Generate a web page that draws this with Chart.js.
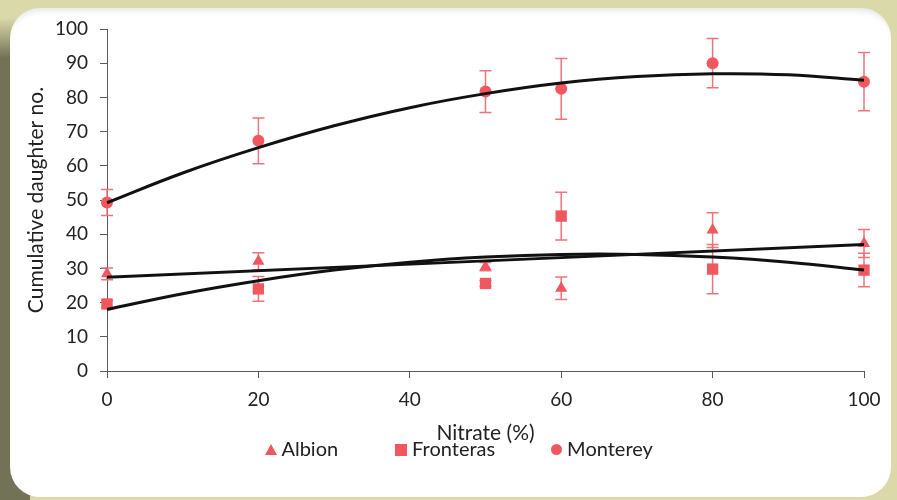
<!DOCTYPE html>
<html>
<head>
<meta charset="utf-8">
<script src="https://cdn.jsdelivr.net/npm/chart.js@4.4.1/dist/chart.umd.min.js"></script>
<style>
  html, body { margin: 0; padding: 0; }
  body {
    width: 897px; height: 500px; position: relative; overflow: hidden;
    background: #dad9aa; font-family: Lato, sans-serif;
  }
  .shade {
    position: absolute; left: 0; top: 18px; width: 30px; height: 482px;
    background: linear-gradient(to bottom, rgba(112,112,84,0) 0, #727256 40px, #727256 100%);
  }
  .panel {
    position: absolute; left: 10px; top: 8px; width: 881px; height: 489px;
    background: #fff; border-radius: 30px;
    box-shadow: inset 0 7px 6px -4px rgba(0,0,0,0.10);
  }
  canvas { position: absolute; left: 0; top: 0; }
  .legend { position: absolute; top: 435px; height: 26px; font-size: 20px; color: #222; }
  .legend span.mk { display: inline-block; vertical-align: middle; background: #f0575e; }
  .item { position: absolute; top: 0; white-space: nowrap; line-height: 26px; }
  .tri { width: 0 !important; height: 0 !important; background: none !important;
         border-left: 6px solid transparent; border-right: 6px solid transparent;
         border-bottom: 11px solid #f0575e; margin-top: -3px; }
  .sq { width: 12px; height: 12px; margin-top: -2px; }
  .ci { width: 11px; height: 11px; border-radius: 50%; margin-top: -2px; }
</style>
</head>
<body>
<div class="shade"></div>
<div class="panel"></div>
<canvas id="chart" width="897" height="500"></canvas>
<div class="legend" id="legend"></div>
<script>
// nitrate levels (%)
const nitrate = [0, 20, 50, 60, 80, 100];

const seriesNames = ["Albion", "Fronteras", "Monterey"];

// mean cumulative daughters and error (+/-)
const albion = [28.4, 32.1, 30.5, 24.2, 41.2, 37.3];
const albionErr = [1.7, 2.5, 1.2, 3.3, 5.1, 4.1];
const fronteras = [19.6, 24.0, 25.6, 45.3, 29.8, 29.5];
const fronterasErr = [1.0, 3.6, 0.8, 7.0, 7.2, 4.9];
const monterey = [49.3, 67.3, 81.7, 82.5, 90.0, 84.6];
const montereyErr = [3.8, 6.7, 6.1, 8.9, 7.2, 8.5];

// trend lines
const trendX = [0, 10, 20, 30, 40, 50, 60, 70, 80, 90, 100];
const montereyTrend = [49.2, 57.9, 65.3, 71.7, 77.0, 81.1, 84.2, 86.1, 86.9, 86.6, 85.0];
const fronterasTrend = [18.0, 22.6, 26.4, 29.5, 31.8, 33.3, 34.1, 34.1, 33.3, 31.8, 29.5];
const albionTrendX = [0, 100];
const albionTrend = [27.4, 37.0];

const xTicks = [0, 20, 40, 60, 80, 100];
const yTicks = [0, 10, 20, 30, 40, 50, 60, 70, 80, 90, 100];

const red = "#f0575e";
const errRed = "#ee7479";
const axisGrey = "#595959";
const textCol = "#222222";

const pts = (xs, ys) => xs.map((x, i) => ({ x: x, y: ys[i] }));

// error bars drawn through the chart scales
const errorBars = {
    id: "errorBars",
    beforeDatasetsDraw(chart) {
        const ctx = chart.ctx;
        const xs = chart.scales.x;
        const ys = chart.scales.y;
        ctx.save();
        ctx.strokeStyle = errRed;
        ctx.lineWidth = 1.5;
        chart.data.datasets.forEach((ds) => {
            if (!ds.errors) return;
            ds.data.forEach((p, i) => {
                const e = ds.errors[i];
                const px = xs.getPixelForValue(p.x);
                const top = ys.getPixelForValue(p.y + e);
                const bot = ys.getPixelForValue(p.y - e);
                ctx.beginPath();
                ctx.moveTo(px, top);
                ctx.lineTo(px, bot);
                ctx.moveTo(px - 6, top);
                ctx.lineTo(px + 6, top);
                ctx.moveTo(px - 6, bot);
                ctx.lineTo(px + 6, bot);
                ctx.stroke();
            });
        });
        ctx.restore();
    }
};

const markerSet = (label, ys, errs, style, r) => ({
    label: label,
    data: pts(nitrate, ys),
    errors: errs,
    pointStyle: style,
    pointRadius: r,
    backgroundColor: red,
    borderColor: red,
    borderWidth: 0,
    showLine: false,
    clip: false,
    order: 1,
});

const trendSet = (xs, ys) => ({
    label: "",
    data: pts(xs, ys),
    showLine: true,
    borderColor: "#111111",
    borderWidth: 3,
    pointRadius: 0,
    tension: 0.4,
    clip: false,
    order: 0,
});

new Chart(document.getElementById("chart"), {
    type: "scatter",
    data: {
        datasets: [
            markerSet(seriesNames[0], albion, albionErr, "triangle", 7),
            markerSet(seriesNames[1], fronteras, fronterasErr, "rect", 8),
            markerSet(seriesNames[2], monterey, montereyErr, "circle", 6),
            trendSet(albionTrendX, albionTrend),
            trendSet(trendX, fronterasTrend),
            trendSet(trendX, montereyTrend),
        ],
    },
    options: {
        responsive: false,
        devicePixelRatio: 1,
        animation: false,
        layout: { padding: { left: 20, top: 29, right: 33, bottom: 50 } },
        plugins: {
            legend: { display: false },
            tooltip: { enabled: false },
        },
        scales: {
            x: {
                type: "linear",
                min: 0,
                max: 100,
                afterBuildTicks: (s) => { s.ticks = xTicks.map((v) => ({ value: v })); },
                afterFit: (s) => { s.height = 79; },
                ticks: { color: textCol, font: { family: "Lato", size: 19 }, padding: 10 },
                grid: { drawOnChartArea: false, drawTicks: true, tickLength: 7, color: axisGrey },
                border: { color: axisGrey, width: 1 },
                title: { display: true, text: "Nitrate (%)", color: textCol, font: { family: "Lato", size: 21 } },
            },
            y: {
                min: 0,
                max: 100,
                afterBuildTicks: (s) => { s.ticks = yTicks.map((v) => ({ value: v })); },
                afterFit: (s) => { s.width = 87; },
                ticks: { color: textCol, font: { family: "Lato", size: 19 }, padding: 12 },
                grid: { drawOnChartArea: false, drawTicks: true, tickLength: 7, color: axisGrey },
                border: { color: axisGrey, width: 1 },
                title: { display: true, text: "Cumulative daughter no.", color: textCol, font: { family: "Lato", size: 21 } },
            },
        },
    },
    plugins: [errorBars],
});

// legend
const legendEl = document.getElementById("legend");
const markers = ["tri", "sq", "ci"];
const lefts = [265, 395, 551];
seriesNames.forEach((name, i) => {
    const it = document.createElement("div");
    it.className = "item";
    it.style.left = lefts[i] + "px";
    it.innerHTML = '<span class="mk ' + markers[i] + '"></span> ' + name;
    legendEl.appendChild(it);
});
</script>
</body>
</html>
